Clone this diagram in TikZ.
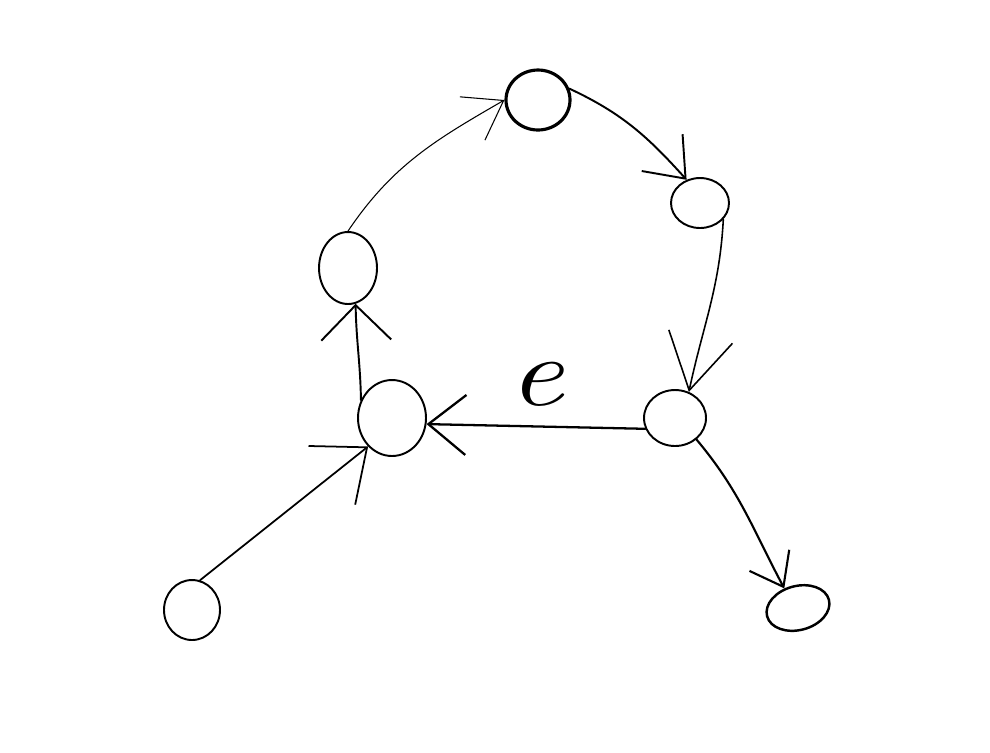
\documentclass[tikz,border=0pt]{standalone}
\usetikzlibrary{shapes.geometric,arrows.meta}
\begin{document}
\begin{tikzpicture}[x=0.02cm,y=0.02cm,
  vtx/.style={ellipse,draw,line width=1.1pt,inner sep=0pt},
  edg/.style={line width=0.9pt,line cap=round},
  lbl/.style={font=\fontsize{56}{56}\selectfont\itshape,inner sep=0pt,xscale=1.25},
  tip/.style args={#1/#2}{-{Straight Barb[length=#1,width=#2]}}]
\useasboundingbox (0,0) rectangle (990,-752);
% nodes
\node[vtx,line width=1.8pt,minimum width=1.28cm,minimum height=1.2cm] (T) at (538,-100) {};
\node[vtx,minimum width=1.16cm,minimum height=1.0cm] (RT) at (700,-203) {};
\node[vtx,minimum width=1.16cm,minimum height=1.44cm] (L) at (348,-268) {};
\node[vtx,minimum width=1.36cm,minimum height=1.52cm] (CL) at (392,-418) {};
\node[vtx,minimum width=1.24cm,minimum height=1.12cm] (RM) at (675,-418) {};
\node[vtx,minimum width=1.12cm,minimum height=1.2cm] (BL) at (192,-610) {};
\node[vtx,line width=1.4pt,rotate=15,minimum width=1.28cm,minimum height=0.88cm] (BR) at (798,-608) {};
% edges
\draw[edg,line width=0.6pt,tip=0.72cm/1.0cm] (L.north) to[out=56,in=210] (T.west);
\draw[edg,line width=1.1pt,tip=0.7cm/1.1cm] (T.20) to[out=-25,in=132] (RT.120);
\draw[edg,tip=1.1cm/1.3cm] (RT.-35) to[out=-93,in=78] (RM.62);
\draw[edg,line width=1.3pt,tip=0.75cm/1.2cm] (RM.200) -- node[lbl,above=11pt,pos=0.5]{e} (CL.-10);
\draw[edg,line width=1.1pt,tip=0.7cm/1.4cm] (CL.150) to[out=91,in=-89] (L.-78);
\draw[edg,line width=1pt,tip=0.9cm/1.5cm] (BL.75) -- (CL.-130);
\draw[edg,line width=1.2pt,tip=0.6cm/0.9cm] (RM.-45) to[out=-50,in=118] (BR.110);
\end{tikzpicture}
\end{document}
